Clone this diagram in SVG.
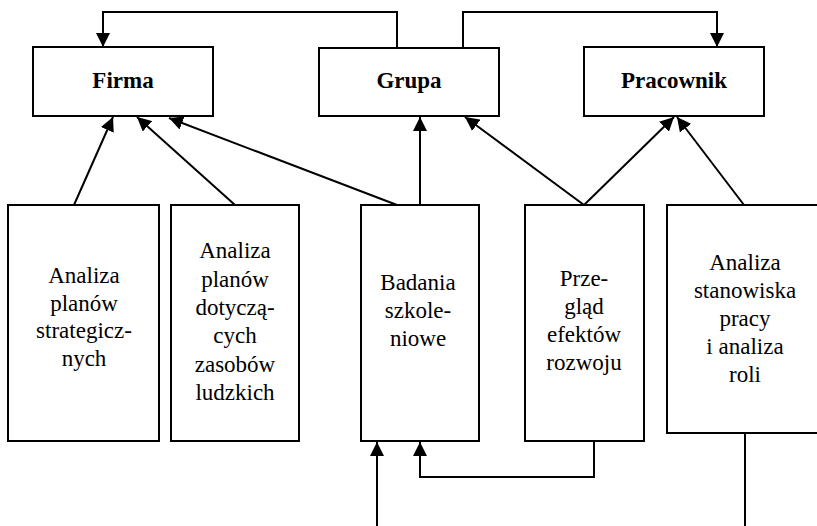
<svg xmlns="http://www.w3.org/2000/svg" width="817" height="526" viewBox="0 0 817 526">
<style>
  .box{fill:#fff;stroke:#000;stroke-width:2}
  .t{font-family:"Liberation Serif","Times New Roman",serif;font-size:23px;fill:#000;text-anchor:middle}
  .b{font-weight:bold}
  .c{fill:none;stroke:#000;stroke-width:2}
</style>
<defs>
  <marker id="ah" markerUnits="userSpaceOnUse" markerWidth="15" markerHeight="14" refX="14" refY="7" orient="auto">
    <path d="M0,0 L14,7 L0,14 z" fill="#000"/>
  </marker>
</defs>
<rect width="817" height="526" fill="#fff"/>
<g id="connectors">
  <polyline class="c" points="397,48 397,12 103,12 103,47" marker-end="url(#ah)"/>
  <polyline class="c" points="463,48 463,12 717,12 717,47" marker-end="url(#ah)"/>
  <line class="c" x1="74" y1="205" x2="113" y2="117" marker-end="url(#ah)"/>
  <line class="c" x1="235" y1="205" x2="137" y2="117" marker-end="url(#ah)"/>
  <line class="c" x1="397" y1="205" x2="169" y2="118" marker-end="url(#ah)"/>
  <line class="c" x1="420" y1="205" x2="420" y2="117" marker-end="url(#ah)"/>
  <line class="c" x1="584" y1="205" x2="465" y2="117" marker-end="url(#ah)"/>
  <line class="c" x1="584" y1="205" x2="674" y2="117" marker-end="url(#ah)"/>
  <line class="c" x1="744" y1="205" x2="677" y2="117" marker-end="url(#ah)"/>
  <line class="c" x1="377" y1="526" x2="377" y2="442" marker-end="url(#ah)"/>
  <polyline class="c" points="594,441 594,477 420,477 420,442" marker-end="url(#ah)"/>
  <line class="c" x1="745" y1="433" x2="745" y2="526"/>
</g>
<g id="firma">
  <rect class="box" x="33" y="47" width="180" height="69"/>
  <text class="t b" x="123" y="88">Firma</text>
</g>
<g id="grupa">
  <rect class="box" x="319" y="48" width="180" height="68"/>
  <text class="t b" x="409" y="88">Grupa</text>
</g>
<g id="pracownik">
  <rect class="box" x="584" y="47" width="180" height="69"/>
  <text class="t b" x="674" y="88">Pracownik</text>
</g>
<g id="analiza-planow-strategicznych">
  <rect class="box" x="8" y="205" width="151" height="236"/>
  <text class="t" x="84" y="283">Analiza</text>
  <text class="t" x="84" y="311">planów</text>
  <text class="t" x="84" y="338">strategicz-</text>
  <text class="t" x="84" y="366">nych</text>
</g>
<g id="analiza-planow-zasobow">
  <rect class="box" x="171" y="205" width="128" height="236"/>
  <text class="t" x="235" y="258">Analiza</text>
  <text class="t" x="235" y="287">planów</text>
  <text class="t" x="235" y="315">dotyczą-</text>
  <text class="t" x="235" y="343">cych</text>
  <text class="t" x="235" y="372">zasobów</text>
  <text class="t" x="235" y="400">ludzkich</text>
</g>
<g id="badania-szkoleniowe">
  <rect class="box" x="361" y="205" width="118" height="236"/>
  <text class="t" x="418" y="290">Badania</text>
  <text class="t" x="418" y="318">szkole-</text>
  <text class="t" x="418" y="346">niowe</text>
</g>
<g id="przeglad-efektow">
  <rect class="box" x="525" y="205" width="119" height="236"/>
  <text class="t" x="584" y="286">Prze-</text>
  <text class="t" x="584" y="314">gląd</text>
  <text class="t" x="584" y="342">efektów</text>
  <text class="t" x="584" y="370">rozwoju</text>
</g>
<g id="analiza-stanowiska">
  <rect class="box" x="667" y="205" width="170" height="228"/>
  <text class="t" x="745" y="270">Analiza</text>
  <text class="t" x="745" y="298">stanowiska</text>
  <text class="t" x="745" y="326">pracy</text>
  <text class="t" x="745" y="354">i analiza</text>
  <text class="t" x="745" y="382">roli</text>
</g>
</svg>
